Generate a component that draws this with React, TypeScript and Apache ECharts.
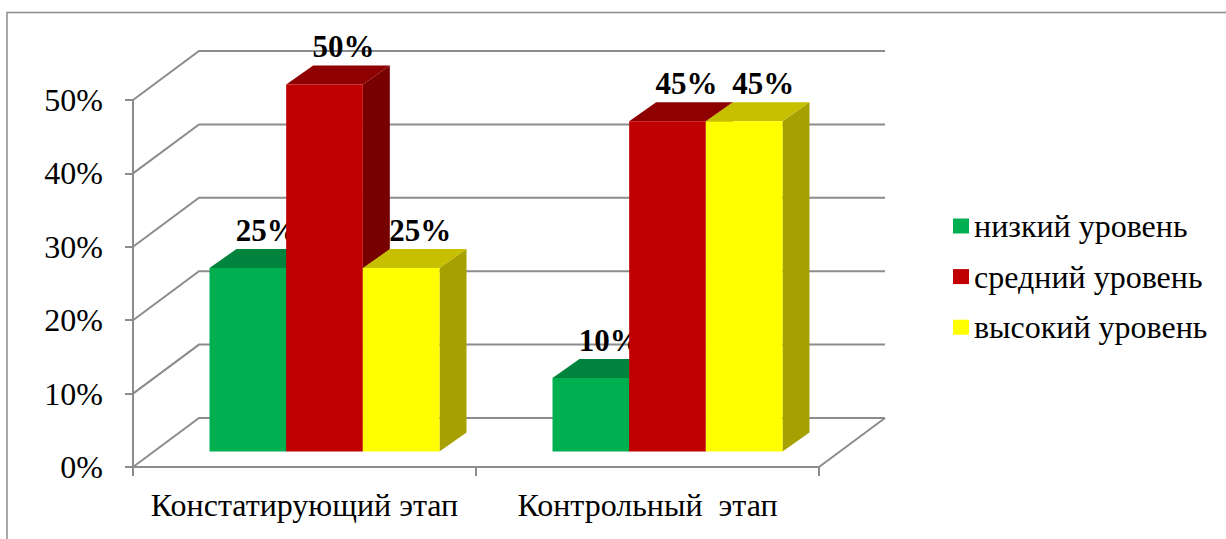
import React, { useEffect, useRef } from "react";
import * as echarts from "echarts";

const categories = ["Констатирующий этап", "Контрольный  этап"];
const seriesNames = ["низкий уровень", "средний уровень", "высокий уровень"];
const lowLevel = [0.25, 0.1];
const midLevel = [0.5, 0.45];
const highLevel = [0.25, 0.45];
const yTicks = [0, 0.1, 0.2, 0.3, 0.4, 0.5];

const FONT = "Liberation Serif, Times New Roman, serif";
const GRAY = "#8c8c8c";

// face colours: front, top, side
const palettes = [
  ["#00B050", "#00843D", "#006830"],
  ["#C00000", "#8F0000", "#770000"],
  ["#FFFF00", "#C6C000", "#A6A000"],
];

const pct = (v: number) => Math.round(v * 100) + "%";

export default function App() {
  const ref = useRef<HTMLDivElement>(null);
  useEffect(() => {
    if (!ref.current) return;
    const chart = echarts.init(ref.current, null, { renderer: "svg" });
    const WALL_DX = 66;
    const WALL_DY = -49;
    const SHIFT_X = 20;
    const SHIFT_Y = -15.5;
    const BAR_DX = 27;
    const BAR_DY = -19;

    const makeBarSeries = (idx: number, values: number[]) => ({
      type: "custom",
      name: seriesNames[idx],
      color: palettes[idx][0],
      itemStyle: { color: palettes[idx][0] },
      z: 10 + idx,
      data: values.map((v, i) => [i, v]),
      renderItem: (params: any, api: any) => {
        const cat = api.value(0);
        const v = api.value(1);
        const base = api.coord([cat, 0]);
        const top = api.coord([cat, v]);
        const catW = api.size([1, 0])[0];
        const bw = catW * 0.2235;
        const left = base[0] + SHIFT_X - 1.5 * bw + idx * bw;
        const yb = base[1] + SHIFT_Y;
        const yt = top[1] + SHIFT_Y;
        const [cFront, cTop, cSide] = palettes[idx];
        return {
          type: "group",
          children: [
            {
              type: "polygon",
              shape: {
                points: [
                  [left + bw, yt],
                  [left + bw + BAR_DX, yt + BAR_DY],
                  [left + bw + BAR_DX, yb + BAR_DY],
                  [left + bw, yb],
                ],
              },
              style: { fill: cSide },
            },
            {
              type: "polygon",
              shape: {
                points: [
                  [left, yt],
                  [left + BAR_DX, yt + BAR_DY],
                  [left + bw + BAR_DX, yt + BAR_DY],
                  [left + bw, yt],
                ],
              },
              style: { fill: cTop },
            },
            {
              type: "rect",
              shape: { x: left, y: yt, width: bw, height: yb - yt },
              style: { fill: cFront },
            },
            {
              type: "text",
              x: left + bw / 2 + 19,
              y: yt + BAR_DY - 19,
              style: {
                text: pct(v),
                fontFamily: FONT,
                fontWeight: "bold",
                fontSize: 31,
                fill: "#000",
                align: "center",
                verticalAlign: "middle",
              },
            },
          ],
        };
      },
    });

    const wallSeries = {
      type: "custom",
      silent: true,
      z: 1,
      data: yTicks.map((v) => [0, v]),
      renderItem: (params: any, api: any) => {
        const v = api.value(1);
        const cs = params.coordSys;
        const y = api.coord([0, v])[1];
        const x0 = cs.x;
        const x1 = cs.x + cs.width;
        const children: any[] = [
          {
            type: "polyline",
            shape: {
              points: [
                [x0, y],
                [x0 + WALL_DX, y + WALL_DY],
                [x1 + WALL_DX, y + WALL_DY],
              ],
            },
            style: { stroke: GRAY, lineWidth: 2, fill: null },
          },
        ];
        if (v === 0) {
          children.push({
            type: "line",
            shape: { x1: x1, y1: y, x2: x1 + WALL_DX, y2: y + WALL_DY },
            style: { stroke: GRAY, lineWidth: 2 },
          });
        }
        return { type: "group", children };
      },
    };

    chart.setOption({
      animation: false,
      backgroundColor: "#fff",
      textStyle: { fontFamily: FONT },
      graphic: [
        {
          type: "rect",
          shape: { x: 7, y: 12.5, width: 1400, height: 700 },
          style: { fill: null, stroke: GRAY, lineWidth: 1.5 },
          silent: true,
        },
      ],
      grid: { left: 133, right: 407, top: 100, bottom: 72 },
      legend: {
        orient: "vertical",
        left: 953,
        top: 210,
        padding: 0,
        icon: "rect",
        itemWidth: 16,
        itemHeight: 15,
        itemGap: 18.6,
        data: seriesNames,
        textStyle: {
          fontFamily: FONT,
          fontSize: 32,
          lineHeight: 32,
          color: "#000",
        },
      },
      xAxis: {
        type: "category",
        data: categories,
        axisLine: { lineStyle: { color: GRAY, width: 2 } },
        axisTick: { show: true, length: 9, lineStyle: { color: GRAY, width: 2 } },
        axisLabel: {
          interval: 0,
          fontFamily: FONT,
          fontSize: 32,
          color: "#000",
          margin: 22,
        },
      },
      yAxis: {
        type: "value",
        min: 0,
        max: 0.5,
        interval: 0.1,
        axisLine: { show: true, lineStyle: { color: GRAY, width: 2 } },
        axisTick: { show: true, length: 8, lineStyle: { color: GRAY, width: 2 } },
        splitLine: { show: false },
        axisLabel: {
          formatter: (v: number) => pct(v),
          fontFamily: FONT,
          fontSize: 32,
          color: "#000",
          margin: 30,
        },
      },
      series: [
        wallSeries,
        makeBarSeries(0, lowLevel),
        makeBarSeries(1, midLevel),
        makeBarSeries(2, highLevel),
      ],
    });
    return () => chart.dispose();
  }, []);
  return (
    <div
      ref={ref}
      style={{ position: "fixed", left: 0, top: 0, width: 1226, height: 539 }}
    />
  );
}
